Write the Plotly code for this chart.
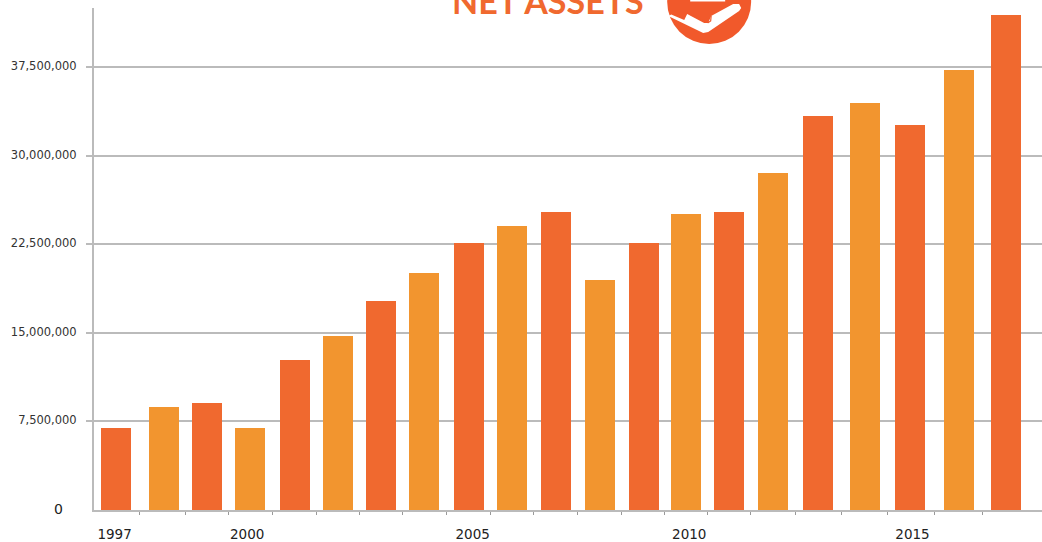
import plotly.graph_objects as go

years = list(range(1997, 2018))
# bars sit unevenly along the axis in the source chart, so each year has its own position
year_positions = [1997.02, 1998.08, 1999.06, 2000.03, 2001.03, 2002.0, 2002.97, 2003.93, 2004.94,
                  2005.91, 2006.9, 2007.89, 2008.88, 2009.82, 2010.79, 2011.78, 2012.79, 2013.85,
                  2014.87, 2015.97, 2017.03]
net_assets = [6940000, 8720000, 9060000, 6940000, 12700000, 14730000, 17690000, 20060000,
              22600000, 24040000, 25200000, 19470000, 22600000, 25060000, 25200000, 28500000,
              33350000, 34450000, 32600000, 37250000, 41900000]
bar_colors = ["#F0692F", "#F2952F"] * 10 + ["#F0692F"]
y_ticks = [7500000, 15000000, 22500000, 30000000, 37500000]
y_labels = ["7,500,000", "15,000,000", "22,500,000", "30,000,000", "37,500,000"]
x_label_positions = [1996.98, 1999.96, 2005.03, 2009.9, 2014.92]
x_labels = ["1997", "2000", "2005", "2010", "2015"]
x_tick_marks = [(a + b) / 2 for a, b in zip(year_positions[:-1], year_positions[1:])]

PX_PER_YEAR = 44.5
x0 = 1997 - (115 - 93.5) / PX_PER_YEAR
x1 = x0 + (1042 - 93.5) / PX_PER_YEAR

fig = go.Figure(go.Bar(x=year_positions, y=net_assets, marker=dict(color=bar_colors, line_width=0),
                       width=30 / PX_PER_YEAR, showlegend=False, hoverinfo="skip"))


def px(x):
    return (x - 93.5) / (1042 - 93.5)


def py(y):
    return (510 - y) / (510 - 8)


def poly(points, close=True):
    return "M " + " L ".join(f"{px(a):.4f},{py(b):.4f}" for a, b in points) + (" Z" if close else "")


hand_path = poly([(668, 16), (671, 14.5), (684, 20), (687, 14), (704, 23), (708, 23), (711, 16), (733, 4),
                  (739, 4), (741, 8), (739, 11), (708, 32), (703, 33)])
book_line = poly([(687, 12), (705, 22), (708, 22.5), (710.5, 21), (711, 16)], close=False)
page_path = poly([(690, -2), (725, -2), (725, 1.5), (690, 1.5)])

fig.update_layout(
    width=1042, height=542, autosize=False,
    margin=dict(l=93.5, r=0, t=8, b=32),
    paper_bgcolor="white", plot_bgcolor="white",
    bargap=0,
    font=dict(family="DejaVu Sans", size=11.5, color="#333333"),
    xaxis=dict(range=[x0, x1], tickmode="array", tickvals=x_label_positions, ticktext=x_labels,
               ticks="", showgrid=False, zeroline=False, showline=True, linecolor="#BBBBBB", linewidth=2,
               tickfont=dict(size=13.5, color="#222222"), ticklabelstandoff=11,
               minor=dict(tickmode="array", tickvals=x_tick_marks, ticks="outside", ticklen=3,
                          tickwidth=1, tickcolor="#999999", showgrid=False)),
    yaxis=dict(range=[0, 42494000], tickmode="array", tickvals=y_ticks, ticktext=y_labels,
               ticks="outside", ticklen=6, tickwidth=2, tickcolor="#BBBBBB",
               gridcolor="#BBBBBB", gridwidth=2, zeroline=False,
               showline=True, linecolor="#BBBBBB", linewidth=2, ticklabelstandoff=7, ticklabelshift=-1,
               tickfont=dict(size=11.5, color="#333333")),
    shapes=[
        dict(type="circle", xref="paper", yref="paper", x0=px(667), x1=px(751), y0=py(44), y1=py(-40),
             fillcolor="#F1592B", line_width=0, layer="above"),
        dict(type="path", xref="paper", yref="paper", path=hand_path, fillcolor="white", line_width=0, layer="above"),
        dict(type="path", xref="paper", yref="paper", path=book_line, line=dict(color="#F1592B", width=1.2), layer="above"),
        dict(type="path", xref="paper", yref="paper", path=page_path, fillcolor="white", line_width=0, layer="above"),
    ],
    annotations=[
        dict(text="NET ASSETS", xref="paper", yref="paper", x=px(547.5), y=py(14), xanchor="center", yanchor="bottom",
             yshift=-9, showarrow=False, font=dict(family="Lato", size=34, color="#F0692F", weight=700)),
        dict(text="0", xref="paper", yref="paper", x=px(64), y=py(509), xanchor="right", yanchor="middle",
             showarrow=False, font=dict(size=14, color="#222222")),
    ],
)

fig.write_html("out.html", config={"displayModeBar": False}, post_script="document.body.style.margin='0';")
